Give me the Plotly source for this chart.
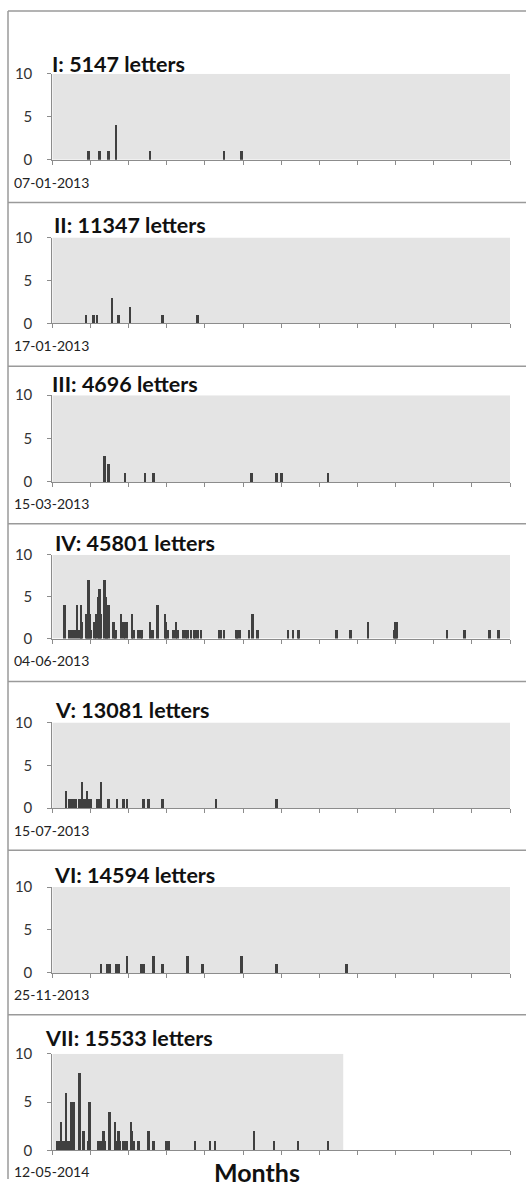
import plotly.graph_objects as go

W, H = 526, 1187

# ---------------- data (day offset from start date, letter count) ----------------
titles = ["I: 5147 letters", "II: 11347 letters", "III: 4696 letters", "IV: 45801 letters",
          "V: 13081 letters", "VI: 14594 letters", "VII: 15533 letters"]
start_dates = ["07-01-2013", "17-01-2013", "15-03-2013", "04-06-2013",
               "15-07-2013", "25-11-2013", "12-05-2014"]

days_I = [29, 38, 45, 51, 78, 137, 151]
vals_I = [1, 1, 1, 4, 1, 1, 1]

days_II = [27, 33, 36, 48, 53, 62, 88, 116]
vals_II = [1, 1, 1, 3, 1, 2, 1, 1]

days_III = [42, 45, 58, 74, 81, 159, 179, 183, 220]
vals_III = [3, 2, 1, 1, 1, 1, 1, 1, 1]

days_IV = [10, 14, 16, 18, 20, 22, 23, 24, 27, 28, 29, 30, 31, 34, 35, 37, 38, 39,
           42, 43, 44, 45, 49, 50, 51, 55, 57, 58, 60, 64, 65, 69, 71, 72, 78, 80, 84,
           90, 91, 92, 97, 99, 100, 105, 107, 108, 111, 113, 114, 116, 119,
           133, 135, 137, 147, 148, 150, 157, 160, 164, 188, 192, 196, 197, 227, 238,
           252, 273, 274, 275, 315, 329, 349, 356]
vals_IV = [4, 1, 1, 1, 4, 1, 4, 2, 3, 3, 7, 3, 1, 2, 3, 5, 6, 3,
           7, 5, 4, 4, 2, 1, 1, 3, 2, 2, 2, 3, 1, 1, 1, 1, 2, 1, 4,
           3, 2, 1, 1, 2, 1, 1, 1, 1, 1, 1, 1, 1, 1,
           1, 1, 1, 1, 1, 1, 1, 3, 1, 1, 1, 1, 1, 1, 1,
           2, 1, 2, 2, 1, 1, 1, 1]

days_V = [11, 14, 16, 17, 19, 22, 23, 24, 26, 28, 29, 30, 31, 36, 37, 39, 45, 52,
          57, 60, 73, 77, 88, 131, 179]
vals_V = [2, 1, 1, 1, 1, 1, 1, 3, 1, 2, 1, 1, 1, 1, 1, 3, 1, 1,
          1, 1, 1, 1, 1, 1, 1]

days_VI = [39, 44, 46, 51, 53, 60, 71, 73, 81, 88, 108, 120, 151, 179, 235]
vals_VI = [1, 1, 1, 1, 1, 2, 1, 1, 2, 1, 2, 1, 2, 1, 1]

days_VII = [4, 5, 6, 7, 8, 9, 10, 11, 12, 13, 14, 15, 16, 17, 22, 25, 29, 30,
            37, 38, 40, 41, 42, 46, 50, 51, 53, 54, 57, 59, 60, 63, 64, 65, 69,
            77, 81, 91, 92, 93, 114, 126, 130, 161, 177, 196, 220]
vals_VII = [1, 1, 1, 3, 1, 1, 1, 6, 1, 1, 1, 5, 5, 5, 8, 2, 1, 5,
            1, 1, 1, 2, 1, 4, 3, 1, 2, 1, 1, 1, 1, 3, 2, 1, 1,
            2, 1, 1, 1, 1, 1, 1, 1, 2, 1, 1, 1]

series_days = [days_I, days_II, days_III, days_IV, days_V, days_VI, days_VII]
series_vals = [vals_I, vals_II, vals_III, vals_IV, vals_V, vals_VI, vals_VII]
data_end = [365, 365, 365, 365, 365, 365, 232]   # last day covered by each period

YEAR = 365
month_ticks = [i * YEAR / 12 for i in range(13)]

# ---------------- layout geometry (pixels) ----------------
plot_top = [72, 236, 394, 554, 722, 887, 1054]
plot_zero = [158, 322, 481, 638, 808, 973, 1151]
title_y = [62, 223, 383, 542, 710, 875, 1038]
title_x = [50, 52, 50, 53, 53, 52, 43]
date_y = [181, 344, 503, 660, 830, 995, 1172]
separators = [9, 201, 365, 523, 681, 850, 1015]
X0, X1 = 52.3, 510

BAR = "#404040"
BG = "#e4e4e4"
AX = "#8c8c8c"
FONT = "Lato"

fig = go.Figure()
layout = dict(width=W, height=H, margin=dict(l=0, r=0, t=0, b=0),
              paper_bgcolor="white", plot_bgcolor="rgba(0,0,0,0)", showlegend=False,
              bargap=0)
shapes, annotations = [], []

def py(px):
    # pixel row in the target picture -> paper fraction (with page offset compensation)
    plan = (px - 8.0) / 0.987
    return 1 - plan / H

for i in range(7):
    n = "" if i == 0 else str(i + 1)
    xa, ya = "x" + n, "y" + n
    fig.add_trace(go.Bar(x=series_days[i], y=series_vals[i], width=1.9,
                         marker=dict(color=BAR, line=dict(width=0)),
                         xaxis=xa, yaxis=ya, hoverinfo="x+y"))
    layout["xaxis" + n] = dict(domain=[X0 / W, X1 / W], range=[0, YEAR], anchor=ya,
                               tickmode="array", tickvals=month_ticks, showticklabels=False,
                               ticks="outside", ticklen=4, tickcolor=AX, tickwidth=1,
                               showline=True, linecolor=AX, linewidth=1,
                               showgrid=False, zeroline=False, fixedrange=True)
    layout["yaxis" + n] = dict(domain=[py(plot_zero[i]), py(plot_top[i])], range=[0, 10],
                               anchor=xa, tickmode="array", tickvals=[0, 5, 10],
                               ticks="outside", ticklen=4, tickcolor=AX,
                               showline=True, linecolor=AX, linewidth=1,
                               showgrid=False, zeroline=False,
                               tickfont=dict(family=FONT, size=15, color="#333333"),
                               ticklabelstandoff=12, fixedrange=True)
    shapes.append(dict(type="rect", xref=xa, yref=ya, x0=0, x1=data_end[i], y0=0, y1=10,
                       fillcolor=BG, line=dict(width=0), layer="below"))
    annotations.append(dict(text="<b>" + titles[i] + "</b>", xref="paper", yref="paper",
                            x=title_x[i] / W, y=py(title_y[i]), xanchor="left", yanchor="middle",
                            showarrow=False, font=dict(family=FONT, size=21.5, color="#111111")))
    annotations.append(dict(text=start_dates[i], xref="paper", yref="paper",
                            x=12 / W, y=py(date_y[i]), xanchor="left", yanchor="middle",
                            showarrow=False, font=dict(family=FONT, size=14, color="#222222")))

annotations.append(dict(text="<b>Months</b>", xref="paper", yref="paper",
                        x=257 / W, y=py(1173), xanchor="center", yanchor="middle",
                        showarrow=False, font=dict(family=FONT, size=25, color="#111111")))

for s in separators:
    shapes.append(dict(type="line", xref="paper", yref="paper", x0=8 / W, x1=1,
                       y0=py(s), y1=py(s), line=dict(color="#9a9a9a", width=1.5)))
shapes.append(dict(type="line", xref="paper", yref="paper", x0=8 / W, x1=8 / W,
                   y0=py(9), y1=0, line=dict(color="#9a9a9a", width=1.5)))

layout["shapes"] = shapes
layout["annotations"] = annotations
fig.update_layout(**layout)
fig.write_html("out.html", config={"displayModeBar": False},
               post_script="document.body.style.margin='0';document.body.style.overflow='hidden';")
